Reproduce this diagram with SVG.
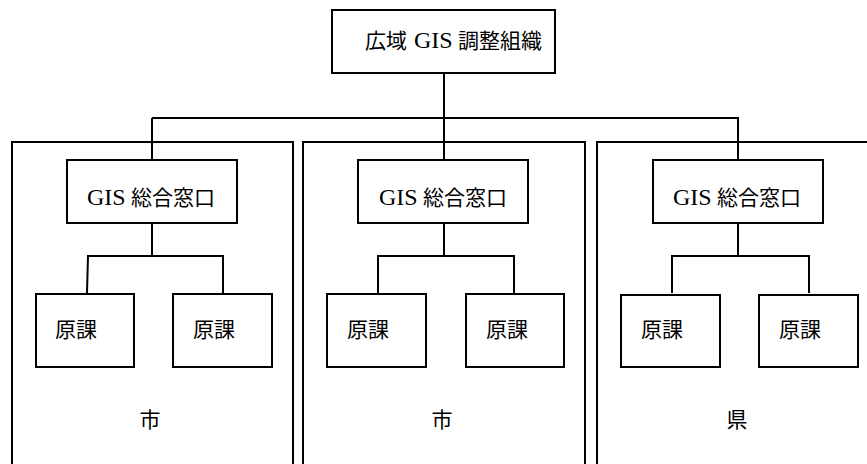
<svg xmlns="http://www.w3.org/2000/svg" width="867" height="464" viewBox="0 0 867 464">
<style>
.box{fill:#fff;stroke:#000;stroke-width:2}
.pan{fill:none;stroke:#000;stroke-width:2}
.ln{fill:none;stroke:#000;stroke-width:2}
.t{font-family:"Noto Sans CJK JP","Liberation Sans",sans-serif;font-size:21px;fill:#000}
.s{font-family:"Liberation Serif","Times New Roman",serif;font-size:24px;fill:#000}
</style>
<rect width="867" height="464" fill="#fff"/>
<g id="panels">
<g id="panel-city1"><polyline class="pan" points="12,464 12,142 293,142 293,464"/><text class="t" x="150" y="427" text-anchor="middle">市</text></g>
<g id="panel-city2"><polyline class="pan" points="303,464 303,142 585,142 585,464"/><text class="t" x="442" y="427" text-anchor="middle">市</text></g>
<g id="panel-pref"><polyline class="pan" points="597,464 597,142 869,142"/><text class="t" x="737" y="427" text-anchor="middle">県</text></g>
</g>
<g id="connectors">
<polyline class="ln" points="444,73 444,160"/>
<polyline class="ln" points="152,118 739,118"/>
<polyline class="ln" points="152,118 152,160"/>
<polyline class="ln" points="738,118 738,160"/>
<polyline class="ln" points="152,223 152,256"/>
<polyline class="ln" points="87,293 88,256 223,256 223,293"/>
<polyline class="ln" points="444,223 444,256"/>
<polyline class="ln" points="378,293 378,256 514,256 514,293"/>
<polyline class="ln" points="738,223 738,256"/>
<polyline class="ln" points="672,293 672,256 809,256 809,293"/>
</g>
<g id="top">
<rect class="box" x="332" y="10" width="223" height="63"/>
<text class="s" y="48"><tspan class="t" x="365">広域</tspan> <tspan x="414">GIS</tspan> <tspan class="t" x="458">調整組織</tspan></text>
</g>
<g id="gis1"><rect class="box" x="67" y="160" width="170" height="63"/><text class="s" y="205"><tspan x="87">GIS</tspan> <tspan class="t" x="131">総合窓口</tspan></text></g>
<g id="gis2"><rect class="box" x="358" y="160" width="170" height="63"/><text class="s" y="205"><tspan x="379">GIS</tspan> <tspan class="t" x="423">総合窓口</tspan></text></g>
<g id="gis3"><rect class="box" x="653" y="160" width="170" height="63"/><text class="s" y="205"><tspan x="673">GIS</tspan> <tspan class="t" x="717">総合窓口</tspan></text></g>
<g id="dept1a"><rect class="box" x="36" y="294" width="98" height="73"/><text class="t" x="55" y="337">原課</text></g>
<g id="dept1b"><rect class="box" x="173" y="294" width="99" height="73"/><text class="t" x="193" y="337">原課</text></g>
<g id="dept2a"><rect class="box" x="327" y="294" width="99" height="73"/><text class="t" x="347" y="337">原課</text></g>
<g id="dept2b"><rect class="box" x="466" y="294" width="98" height="73"/><text class="t" x="486" y="337">原課</text></g>
<g id="dept3a"><rect class="box" x="621" y="295" width="99" height="72"/><text class="t" x="641" y="337">原課</text></g>
<g id="dept3b"><rect class="box" x="759" y="295" width="99" height="72"/><text class="t" x="779" y="337">原課</text></g>
</svg>
